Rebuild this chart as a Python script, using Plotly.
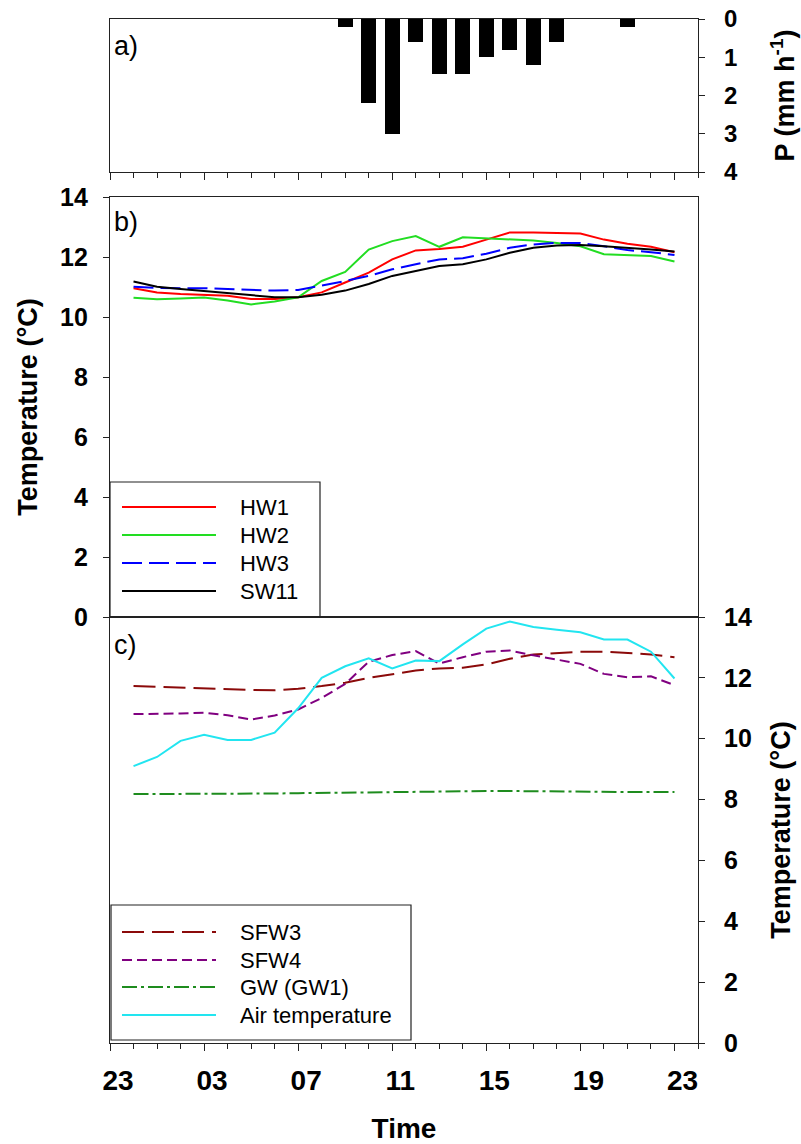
import plotly.graph_objects as go

# ---------------- data ----------------
hours = list(range(1, 25))  # 1 = 00:00 ... 24 = 23:00 (0 = 23:00 previous day)
tick_vals = [0, 4, 8, 12, 16, 20, 24]
tick_text = ["23", "03", "07", "11", "15", "19", "23"]

rain_hours = [10, 11, 12, 13, 14, 15, 16, 17, 18, 19, 22]
rain = [0.2, 2.2, 3.0, 0.6, 1.45, 1.45, 1.0, 0.8, 1.2, 0.6, 0.2]

hw1 = [10.96, 10.82, 10.77, 10.75, 10.71, 10.60, 10.60, 10.66, 10.82, 11.15, 11.48, 11.92,
       12.22, 12.27, 12.34, 12.58, 12.82, 12.82, 12.81, 12.78, 12.58, 12.44, 12.34, 12.16]
hw2 = [10.64, 10.59, 10.62, 10.65, 10.55, 10.42, 10.52, 10.66, 11.20, 11.50, 12.25, 12.53,
       12.70, 12.34, 12.66, 12.62, 12.58, 12.55, 12.47, 12.36, 12.09, 12.07, 12.03, 11.85]
hw3 = [11.01, 10.97, 10.96, 10.96, 10.93, 10.90, 10.88, 10.90, 11.04, 11.20, 11.37, 11.59,
       11.76, 11.92, 11.96, 12.11, 12.31, 12.42, 12.47, 12.47, 12.36, 12.23, 12.16, 12.07]
sw11 = [11.18, 11.01, 10.93, 10.86, 10.79, 10.71, 10.66, 10.66, 10.74, 10.88, 11.10, 11.37,
        11.54, 11.70, 11.76, 11.92, 12.14, 12.31, 12.38, 12.40, 12.36, 12.31, 12.25, 12.18]

sfw3 = [11.73, 11.70, 11.68, 11.66, 11.63, 11.60, 11.59, 11.64, 11.73, 11.84, 12.00, 12.13,
        12.24, 12.31, 12.33, 12.44, 12.63, 12.77, 12.82, 12.86, 12.86, 12.82, 12.77, 12.68]
sfw4 = [10.81, 10.81, 10.83, 10.85, 10.77, 10.63, 10.76, 10.96, 11.34, 11.80, 12.53, 12.75,
        12.88, 12.47, 12.68, 12.86, 12.90, 12.74, 12.60, 12.46, 12.13, 12.02, 12.05, 11.76]
gw1 = [8.18, 8.18, 8.19, 8.19, 8.19, 8.19, 8.20, 8.21, 8.22, 8.24, 8.25, 8.26,
       8.26, 8.26, 8.27, 8.28, 8.28, 8.27, 8.27, 8.26, 8.25, 8.25, 8.25, 8.25]
air = [9.10, 9.40, 9.93, 10.13, 9.96, 9.96, 10.20, 11.00, 12.00, 12.38, 12.64, 12.31,
       12.57, 12.55, 13.10, 13.62, 13.85, 13.67, 13.58, 13.50, 13.26, 13.26, 12.86, 11.98]

series_b = [("HW1", hw1, "#ff0000", "solid"),
            ("HW2", hw2, "#22dd22", "solid"),
            ("HW3", hw3, "#0000ff", "20px,7px"),
            ("SW11", sw11, "#000000", "solid")]
series_c = [("SFW3", sfw3, "#8b0a0a", "22px,8px"),
            ("SFW4", sfw4, "#800080", "10px,5px"),
            ("GW (GW1)", gw1, "#1e8c1e", "15px,4px,3px,4px"),
            ("Air temperature", air, "#22e5f0", "solid")]

# ---------------- geometry (page pixels; body margin removed below) ----------------
W, H = 801, 1144
L, R, T, B = 110, 698, 19, 1043
def px(x):
    return (x - L) / (R - L)
def py(y):
    return (B - y) / (B - T)

FONT = "Liberation Sans, Arial, sans-serif"
AX = "#222222"

fig = go.Figure()

fig.add_trace(go.Bar(x=rain_hours, y=rain, width=0.63,
                     marker=dict(color="black", line=dict(width=0)),
                     xaxis="x", yaxis="y", showlegend=False, name="P"))

for name, vals, col, dash in series_b:
    fig.add_trace(go.Scatter(x=hours, y=vals, mode="lines", name=name,
                             line=dict(color=col, width=2, dash=dash),
                             xaxis="x2", yaxis="y2", showlegend=False))
for name, vals, col, dash in series_c:
    fig.add_trace(go.Scatter(x=hours, y=vals, mode="lines", name=name,
                             line=dict(color=col, width=2, dash=dash),
                             xaxis="x3", yaxis="y3", showlegend=False))

common_x = dict(range=[0, 25], showline=True, linecolor=AX, linewidth=1.2, mirror=True,
                showgrid=False, zeroline=False, automargin=False, ticklabeloverflow="allow")
common_y = dict(showline=True, linecolor=AX, linewidth=1.2, mirror=True, showgrid=False,
                zeroline=False, ticks="outside", ticklen=6, tickcolor=AX,
                automargin=False, ticklabeloverflow="allow")

tickfont_y = dict(family=FONT, size=25, color="black", weight="bold")
titlefont = dict(family=FONT, size=27, color="black", weight="bold")

d_a = [py(172), 1]
d_b = [py(617), py(197)]
d_c = [0, py(617)]

fig.update_layout(
    width=W, height=H,
    margin=dict(l=L, r=W - R, t=T, b=H - B, autoexpand=False),
    paper_bgcolor="white", plot_bgcolor="white",
    showlegend=False,
    bargap=0,
    xaxis=dict(common_x, domain=[0, 1], anchor="y", ticks="outside", tickvals=tick_vals,
               ticklen=7, tickcolor=AX, showticklabels=False,
               minor=dict(dtick=1, tick0=0, ticks="outside", ticklen=5, tickcolor=AX)),
    yaxis=dict(common_y, domain=d_a, anchor="x", side="right", range=[4, 0], dtick=1,
               tick0=0, ticklabelstandoff=14,
               tickfont=dict(family=FONT, size=24, color="black", weight="bold"),
               title=dict(text="P (mm h<sup>-1</sup>)", font=titlefont, standoff=38)),
    xaxis2=dict(common_x, domain=[0, 1], anchor="y2", ticks="", showticklabels=False),
    yaxis2=dict(common_y, domain=d_b, anchor="x2", side="left", range=[0, 14], dtick=2,
                ticklabelstandoff=10, tickfont=tickfont_y,
                title=dict(text="Temperature (°C)", font=titlefont, standoff=14)),
    xaxis3=dict(common_x, domain=[0, 1], anchor="y3", ticks="outside", tickvals=tick_vals,
                ticktext=tick_text, ticklen=7, tickcolor=AX, ticklabelshift=8,
                ticklabelstandoff=5,
                tickfont=dict(family=FONT, size=28, color="black", weight="bold"),
                minor=dict(dtick=1, tick0=0, ticks="outside", ticklen=5, tickcolor=AX),
                title=dict(text="Time", font=dict(family=FONT, size=28, color="black", weight="bold"),
                           standoff=26)),
    yaxis3=dict(common_y, domain=d_c, anchor="x3", side="right", range=[0, 14], dtick=2,
                ticklabelstandoff=14, tickfont=tickfont_y,
                title=dict(text="Temperature (°C)", font=titlefont, standoff=20)),
)

# panel labels
for txt, y in [("a)", 46), ("b)", 222), ("c)", 645)]:
    fig.add_annotation(text=txt, x=px(112), y=py(y), xref="paper", yref="paper",
                       xanchor="left", yanchor="middle", showarrow=False,
                       font=dict(family=FONT, size=27, color="black"))

# custom legends (long sample lines like the original)
shapes = []
def legend(box, items, ys):
    x0, x1, y0, y1 = box
    shapes.append(dict(type="rect", xref="paper", yref="paper", x0=px(x0), x1=px(x1),
                       y0=py(y1), y1=py(y0), line=dict(color=AX, width=1.2),
                       fillcolor="rgba(255,255,255,0)", layer="above"))
    for (name, _, col, dash), yy in zip(items, ys):
        shapes.append(dict(type="line", xref="paper", yref="paper", x0=px(122), x1=px(216),
                           y0=py(yy), y1=py(yy), line=dict(color=col, width=2.2, dash=dash)))
        fig.add_annotation(text=name, x=px(238), y=py(yy), xref="paper", yref="paper",
                           xanchor="left", yanchor="middle", showarrow=False,
                           font=dict(family=FONT, size=22, color="black"))

legend((110, 320, 482, 617), series_b, [507, 535, 563, 591])
legend((111, 411, 905, 1040), series_c, [932, 960, 987, 1015])
fig.update_layout(shapes=shapes)

fig.write_html("out.html", config={"displayModeBar": False},
               post_script="document.body.style.margin='0';document.body.style.overflow='hidden';")
